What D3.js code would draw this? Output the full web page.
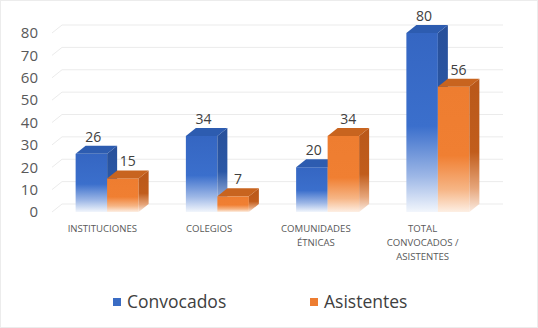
<!DOCTYPE html>
<html>
<head>
<meta charset="utf-8">
<script src="https://cdn.jsdelivr.net/npm/d3@7"></script>
<style>
  body { margin: 0; background: #fff; }
  svg { display: block; font-family: "Open Sans", sans-serif; }
</style>
</head>
<body>
<div id="chart"></div>
<script>
/* 3D-look clustered columns: Convocados vs Asistentes per group */

const categories = ["INSTITUCIONES", "COLEGIOS", "COMUNIDADES ÉTNICAS", "TOTAL CONVOCADOS / ASISTENTES"];
const catLines = [["INSTITUCIONES"], ["COLEGIOS"], ["COMUNIDADES", "ÉTNICAS"], ["TOTAL", "CONVOCADOS /", "ASISTENTES"]];
const seriesNames = ["Convocados", "Asistentes"];
const convocados = [26, 34, 20, 80];
const asistentes = [15, 7, 34, 56];
const yTicks = [0, 10, 20, 30, 40, 50, 60, 70, 80];

const W = 538, H = 328;
const DX = 10, DY = -8;          // depth offset of the fake 3D

const svg = d3.select("#chart").append("svg").attr("width", W).attr("height", H);

// faint frame of the picture
svg.append("rect").attr("x", 0.5).attr("y", 0.5).attr("width", W - 1).attr("height", H - 1)
  .attr("fill", "#fff").attr("stroke", "#ececec");

const x = d3.scaleBand().domain(categories).range([52, 493]);
const xs = d3.scaleBand().domain(seriesNames).range([0, 63]);   // inside a group
const y = d3.scaleLinear().domain([0, 80]).range([212, 33]);
const xLab = d3.scaleBand().domain(categories).range([49, 476]); // labels sit a bit left (perspective)

// gradients: solid at the top, fading to white near the floor
const defs = svg.append("defs");
function grad(id, stops) {
  const g = defs.append("linearGradient").attr("id", id).attr("x1", 0).attr("y1", 0).attr("x2", 0).attr("y2", 1);
  stops.forEach(s => g.append("stop").attr("offset", s[0]).attr("stop-color", s[1]));
}
grad("bFront", [[0, "#3566c2"], [0.52, "#3b6fcc"], [0.8, "#9db7e6"], [1, "#f2f6fc"]]);
grad("bSide",  [[0, "#28509a"], [0.52, "#2b58a6"], [0.8, "#8aa3d2"], [1, "#eef2fa"]]);
grad("oFront", [[0, "#ee7d30"], [0.55, "#f07f32"], [0.82, "#f6b585"], [1, "#fdefe4"]]);
grad("oSide",  [[0, "#b9581a"], [0.55, "#c15d1c"], [0.82, "#e6a57a"], [1, "#fbece2"]]);

const styles = {
  Convocados: { front: "url(#bFront)", side: "url(#bSide)", top: "#2d5cb0", square: "#3a6cc4" },
  Asistentes: { front: "url(#oFront)", side: "url(#oSide)", top: "#c8641f", square: "#ed7d31" }
};

// gridlines on the back wall with a short slanted piece on the side wall
svg.append("g").selectAll("path").data(yTicks).join("path")
  .attr("d", d => `M${x.range()[0]},${y(d)} L${x.range()[0] + DX},${y(d) + DY} L${x.range()[1] + DX},${y(d) + DY}`)
  .attr("fill", "none").attr("stroke", "#ebebeb").attr("stroke-width", 1);

// y tick labels
svg.append("g").selectAll("text").data(yTicks).join("text")
  .attr("x", 38).attr("y", d => y(d)).attr("dy", "0.35em")
  .attr("text-anchor", "end").attr("font-size", 15).attr("fill", "#595959")
  .text(d => d);

// bars
const rows = categories.map((c, i) => [
  { cat: c, s: "Convocados", v: convocados[i] },
  { cat: c, s: "Asistentes", v: asistentes[i] }
]).flat();

const bars = svg.append("g").selectAll("g").data(rows).join("g");
bars.each(function (d) {
  const g = d3.select(this);
  const x0 = x(d.cat) + (x.bandwidth() - xs.range()[1]) / 2 + xs(d.s);
  const w = xs.bandwidth();
  const yt = y(d.v), yb = y(0);
  const st = styles[d.s];
  g.append("rect").attr("x", x0).attr("y", yt).attr("width", w).attr("height", yb - yt).attr("fill", st.front);
  g.append("path")
    .attr("d", `M${x0 + w},${yt} L${x0 + w + DX},${yt + DY} L${x0 + w + DX},${yb + DY} L${x0 + w},${yb}Z`)
    .attr("fill", st.side);
  g.append("path")
    .attr("d", `M${x0},${yt} L${x0 + DX},${yt + DY} L${x0 + w + DX},${yt + DY} L${x0 + w},${yt}Z`)
    .attr("fill", st.top);
  g.append("text")
    .attr("x", x0 + w / 2 + (d.s === "Asistentes" ? 5 : 2)).attr("y", yt + DY - 4)
    .attr("text-anchor", "middle").attr("font-size", 14).attr("fill", "#404040")
    .text(d.v);
});

// category labels
const cl = svg.append("g").selectAll("text").data(categories).join("text")
  .attr("x", d => xLab(d) + xLab.bandwidth() / 2).attr("y", 232)
  .attr("text-anchor", "middle").attr("font-size", 9.6).attr("fill", "#595959");
cl.selectAll("tspan").data((d, i) => catLines[i]).join("tspan")
  .attr("x", function () { return d3.select(this.parentNode).attr("x"); })
  .attr("dy", (d, i) => i === 0 ? 0 : 14)
  .text(d => d);

// legend
const legX = [113, 310];
const leg = svg.append("g").selectAll("g").data(seriesNames).join("g")
  .attr("transform", (d, i) => `translate(${legX[i]},302)`);
leg.append("rect").attr("x", 0).attr("y", -4).attr("width", 8).attr("height", 8)
  .attr("fill", d => styles[d].square);
leg.append("text").attr("x", 14).attr("dy", "0.35em")
  .attr("font-size", 17.5).attr("fill", "#404040").text(d => d);
</script>
</body>
</html>
